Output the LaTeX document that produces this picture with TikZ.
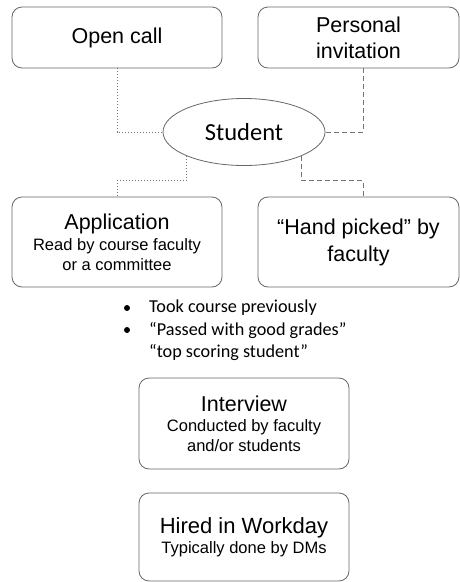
\documentclass[tikz,border=0pt]{standalone}
\usepackage{fontspec}
\setmainfont{Liberation Sans}
\newfontfamily\calibri{Carlito}
\usetikzlibrary{shapes.geometric,calc}

\newcommand\bigtxt{\fontsize{21.5}{26}\selectfont}
\newcommand\smalltxt{\fontsize{16.5}{19.5}\selectfont}

\tikzset{
  stage/.style={draw=black!60, line width=0.8pt, rounded corners=10pt,
    minimum width=210pt, align=center, inner sep=0pt},
  hub/.style={draw=black!60, line width=0.8pt, ellipse, inner sep=0pt,
    minimum width=162pt, minimum height=67pt, font=\calibri\fontsize{24.5}{28}\selectfont},
  dotlink/.style={draw=black!55, line width=0.9pt, dash pattern=on 1pt off 2pt},
  dashlink/.style={draw=black!55, line width=0.9pt, dash pattern=on 5pt off 3pt},
  dot/.style={circle, fill=black, inner sep=0pt, minimum size=6pt},
  note/.style={anchor=west, inner sep=0pt, font=\calibri\fontsize{18.2}{22}\selectfont},
}

\begin{document}
\begin{tikzpicture}[x=1pt,y=-1pt]
  \useasboundingbox (0,0) rectangle (460,582);

  % top row
  \node[stage, minimum height=61pt, font=\bigtxt] (open) at (117,37.5) {Open call};
  \node[stage, minimum width=201pt, minimum height=61pt, font=\bigtxt] (invite) at (358.5,37.5) {Personal\\invitation};

  \node[hub] (student) at (244,132) {Student};

  % second row
  \node[stage, minimum height=90pt, font=\smalltxt] (apply) at (117,242)
    {{\bigtxt Application}\\[2pt] Read by course faculty\\ or a committee};
  \node[stage, minimum width=201pt, minimum height=90pt, font=\fontsize{21.5}{27}\selectfont] (picked) at (358.5,242)
    {“Hand picked” by\\faculty};

  % connectors
  \draw[dotlink] (open.south) |- (student.west);
  \draw[dashlink] ([xshift=4.5pt]invite.south) |- (student.east);
  \draw[dotlink] (student.south west) |- ($(apply.north)+(0,-16)$) -- (apply.north);
  \draw[dashlink] (student.south east) |- ($(picked.north)+(4.5,-16)$) -- ([xshift=4.5pt]picked.north);

  % criteria list
  \node[dot] (b1) at (127,308) {};
  \node[dot] (b2) at (127,330) {};
  \node[note] (took) at (149,308) {Took course previously};
  \node[note] (passed) at (149,330) {“Passed with good grades”};
  \node[note] (top) at (149,352) {“top scoring student”};

  % later steps
  \node[stage, minimum height=91pt, font=\smalltxt] (interview) at (244,423.5)
    {{\bigtxt Interview}\\[1pt] Conducted by faculty\\ and/or students};
  \node[stage, minimum height=88pt, font=\smalltxt] (hired) at (244,537)
    {{\fontsize{22}{26}\selectfont Hired in Workday}\\ Typically done by DMs};
\end{tikzpicture}
\end{document}
